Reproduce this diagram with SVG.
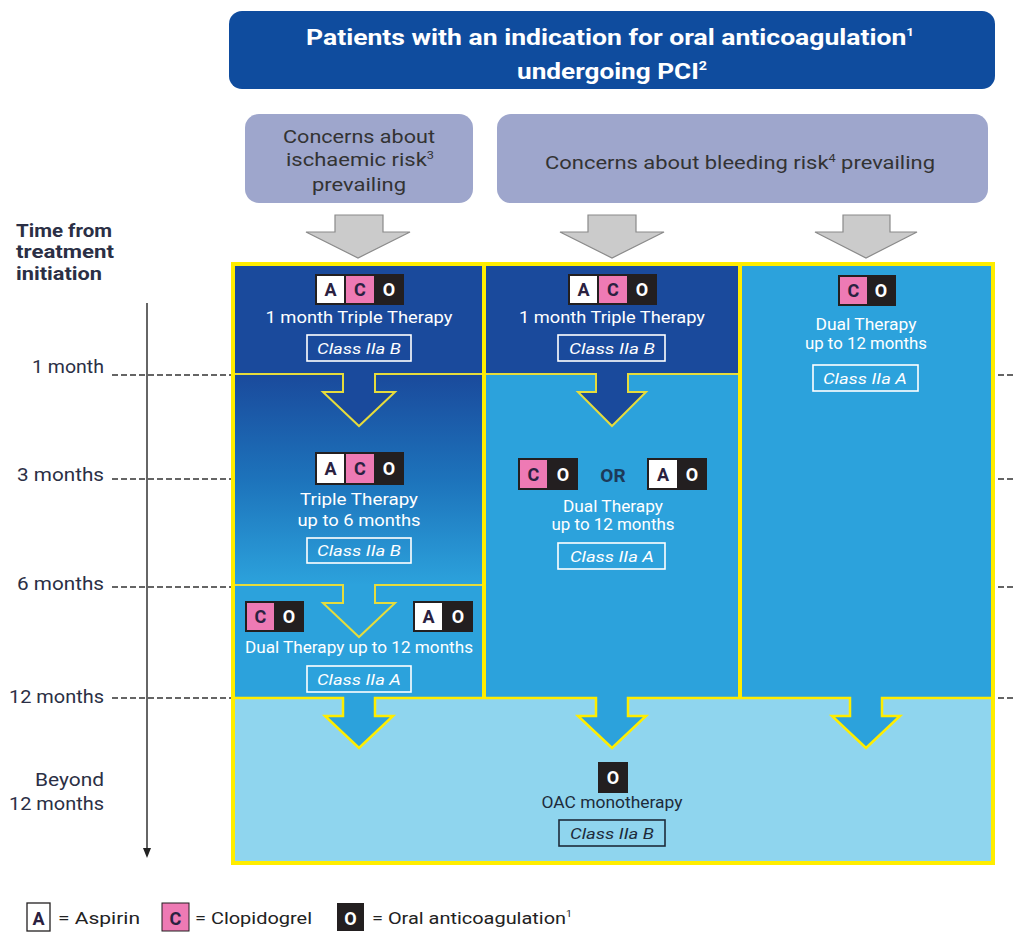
<svg xmlns="http://www.w3.org/2000/svg" width="1015" height="932" viewBox="0 0 1015 932">
<style>
text{font-family:Roboto,"Liberation Sans",sans-serif}
.w{fill:#fff}
.t{font-size:16px;fill:#fff;text-anchor:middle}
.cls{font-size:15px;font-style:italic;fill:#fff;text-anchor:middle}
.clsbox{fill:none;stroke:#fff;stroke-width:1.6}
.bk{fill:#231f20}
.bw{fill:#fff}
.bp{fill:#ee7ab4}
.bl{font-size:18px;font-weight:bold;text-anchor:middle;fill:#2a2140}
.blw{font-size:18px;font-weight:bold;text-anchor:middle;fill:#fff}
.ol{fill:none;stroke:#e6dc3c;stroke-width:2}
.lab{font-size:18px;fill:#2b2f45;text-anchor:end}
.dash{stroke:#333;stroke-width:1.3;stroke-dasharray:6 3}
.gt{font-size:19px;fill:#333;text-anchor:middle}
.garr{fill:#cbcbcb;stroke:#8a8a8a;stroke-width:1.2}
.leg{font-size:17px;fill:#222}
</style>
<defs>
<linearGradient id="g1" x1="0" y1="0" x2="0" y2="1">
<stop offset="0" stop-color="#1a4a9c"/>
<stop offset="0.5" stop-color="#1d73bb"/>
<stop offset="1" stop-color="#2ca2dc"/>
</linearGradient>
<marker id="ah" markerWidth="10" markerHeight="8" refX="5" refY="4" orient="auto" markerUnits="userSpaceOnUse">
<path d="M0,0 L10,4 L0,8 Z" fill="#222"/>
</marker>
</defs>

<g id="title">
<rect x="229" y="11" width="766" height="78" rx="13" fill="#0f4c9e"/>
<text x="610" y="45" font-size="22" font-weight="bold" class="w" text-anchor="middle" textLength="608" lengthAdjust="spacingAndGlyphs">Patients with an indication for oral anticoagulation<tspan font-size="11" dy="-9">1</tspan></text>
<text x="612" y="79" font-size="22" font-weight="bold" class="w" text-anchor="middle" textLength="190" lengthAdjust="spacingAndGlyphs">undergoing PCI<tspan font-size="12" dy="-9">2</tspan></text>
</g>

<g id="ischaemic">
<rect x="245" y="114" width="228" height="89" rx="14" fill="#9ea6cc"/>
<text x="359" y="143" class="gt" textLength="152" lengthAdjust="spacingAndGlyphs">Concerns about</text>
<text x="360" y="166" class="gt" textLength="148" lengthAdjust="spacingAndGlyphs">ischaemic risk<tspan font-size="11" dy="-7">3</tspan></text>
<text x="359" y="191" class="gt" textLength="94" lengthAdjust="spacingAndGlyphs">prevailing</text>
</g>
<g id="bleeding">
<rect x="497" y="114" width="491" height="89" rx="14" fill="#9ea6cc"/>
<text x="740" y="169" class="gt" textLength="390" lengthAdjust="spacingAndGlyphs">Concerns about bleeding risk<tspan font-size="11" dy="-7">4</tspan><tspan dy="7"> prevailing</tspan></text>
</g>

<g id="gray-arrows">
<path class="garr" d="M335,215 H383 V232 H410 L358,258 L306,232 H335 Z"/>
<path class="garr" d="M588,215 H636 V232 H664 L612,258 L560,232 H588 Z"/>
<path class="garr" d="M843,215 H890 V232 H917 L866,258 L815,232 H843 Z"/>
</g>

<g id="timeline">
<text x="16" y="237" font-size="18" font-weight="bold" fill="#2b2f45" textLength="96" lengthAdjust="spacingAndGlyphs">Time from</text>
<text x="16" y="258" font-size="18" font-weight="bold" fill="#2b2f45" textLength="98" lengthAdjust="spacingAndGlyphs">treatment</text>
<text x="16" y="280" font-size="18" font-weight="bold" fill="#2b2f45" textLength="86" lengthAdjust="spacingAndGlyphs">initiation</text>
<line x1="147" y1="303" x2="147" y2="853" stroke="#333" stroke-width="1.5" marker-end="url(#ah)"/>
<line class="dash" x1="112" y1="375" x2="231" y2="375"/>
<line class="dash" x1="112" y1="479" x2="231" y2="479"/>
<line class="dash" x1="112" y1="587" x2="231" y2="587"/>
<line class="dash" x1="112" y1="698" x2="231" y2="698"/>
<line class="dash" x1="998" y1="375" x2="1015" y2="375"/>
<line class="dash" x1="998" y1="479" x2="1015" y2="479"/>
<line class="dash" x1="998" y1="587" x2="1015" y2="587"/>
<line class="dash" x1="998" y1="698" x2="1015" y2="698"/>
<text x="104" y="373" class="lab" textLength="72" lengthAdjust="spacingAndGlyphs">1 month</text>
<text x="104" y="481" class="lab" textLength="87" lengthAdjust="spacingAndGlyphs">3 months</text>
<text x="104" y="590" class="lab" textLength="87" lengthAdjust="spacingAndGlyphs">6 months</text>
<text x="104" y="703" class="lab" textLength="95" lengthAdjust="spacingAndGlyphs">12 months</text>
<text x="104" y="786" class="lab" textLength="69" lengthAdjust="spacingAndGlyphs">Beyond</text>
<text x="104" y="810" class="lab" textLength="95" lengthAdjust="spacingAndGlyphs">12 months</text>
</g>

<g id="backgrounds">
<rect x="235" y="698" width="756" height="163" fill="#8fd5ee"/>
<rect x="235" y="585" width="249" height="113" fill="#2ca2dc"/>
<rect x="235" y="374" width="249" height="211" fill="url(#g1)"/>
<rect x="235" y="266" width="249" height="108" fill="#1a4a9c"/>
<rect x="484" y="266" width="256" height="432" fill="#2ca2dc"/>
<rect x="484" y="266" width="256" height="108" fill="#1a4a9c"/>
<rect x="740" y="266" width="251" height="432" fill="#2ca2dc"/>
</g>

<g id="connectors">
<path d="M343,373 V392 H323 L359,426 L395,392 H375 V373 Z" fill="#1a4a9c"/>
<path class="ol" d="M235,374 H343 V392 H323 L359,426 L395,392 H375 V374 H482"/>
<path d="M343,584 V603 H323 L359,637 L395,603 H375 V584 Z" fill="#2ca2dc"/>
<path class="ol" d="M235,585 H343 V603 H323 L359,637 L395,603 H375 V585 H482"/>
<path d="M596,373 V392 H578 L612,426 L646,392 H628 V373 Z" fill="#1a4a9c"/>
<path class="ol" d="M486,374 H596 V392 H578 L612,426 L646,392 H628 V374 H738"/>
<path d="M343,697 V716 H325 L359,748 L393,716 H375 V697 Z" fill="#2ca2dc"/>
<path d="M596,697 V716 H578 L612,748 L646,716 H628 V697 Z" fill="#2ca2dc"/>
<path d="M850,697 V716 H832 L866,748 L900,716 H882 V697 Z" fill="#2ca2dc"/>
<path fill="none" stroke="#ffed00" stroke-width="2.5" d="M235,698 H343 V716 H325 L359,748 L393,716 H375 V698 H596 V716 H578 L612,748 L646,716 H628 V698 H850 V716 H832 L866,748 L900,716 H882 V698 H991"/>
<line x1="484" y1="266" x2="484" y2="698" stroke="#ffed00" stroke-width="4"/>
<line x1="740" y1="266" x2="740" y2="698" stroke="#ffed00" stroke-width="4"/>
<rect x="233" y="264" width="760" height="599" fill="none" stroke="#ffed00" stroke-width="4"/>
</g>

<g id="ischaemic-1month">
<rect class="bk" x="315" y="274" width="89" height="31"/>
<rect class="bw" x="317" y="276" width="27" height="27"/>
<rect class="bp" x="346" y="276" width="28" height="27"/>
<text x="330.5" y="296" class="bl">A</text><text x="360" y="296" class="bl">C</text><text x="389" y="296" class="blw">O</text>
<text x="359" y="323" class="t" textLength="187" lengthAdjust="spacingAndGlyphs">1 month Triple Therapy</text>
<rect class="clsbox" x="307" y="335" width="104" height="26"/>
<text x="359" y="354" class="cls" textLength="84" lengthAdjust="spacingAndGlyphs">Class IIa B</text>
</g>

<g id="ischaemic-6months">
<rect class="bk" x="315" y="452" width="89" height="33"/>
<rect class="bw" x="317" y="454" width="27" height="29"/>
<rect class="bp" x="346" y="454" width="28" height="29"/>
<text x="330.5" y="475" class="bl">A</text><text x="360" y="475" class="bl">C</text><text x="389" y="475" class="blw">O</text>
<text x="359" y="505" class="t" textLength="118" lengthAdjust="spacingAndGlyphs">Triple Therapy</text>
<text x="359" y="526" class="t" textLength="123" lengthAdjust="spacingAndGlyphs">up to 6 months</text>
<rect class="clsbox" x="307" y="538" width="104" height="25"/>
<text x="359" y="556" class="cls" textLength="84" lengthAdjust="spacingAndGlyphs">Class IIa B</text>
</g>

<g id="ischaemic-12months">
<rect class="bk" x="245" y="601" width="59" height="31"/>
<rect class="bp" x="247" y="603" width="27" height="27"/>
<text x="260.5" y="623" class="bl">C</text><text x="289" y="623" class="blw">O</text>
<rect class="bk" x="413" y="601" width="60" height="31"/>
<rect class="bw" x="415" y="603" width="27" height="27"/>
<text x="428.5" y="623" class="bl">A</text><text x="458" y="623" class="blw">O</text>
<text x="359" y="653" class="t" textLength="228" lengthAdjust="spacingAndGlyphs">Dual Therapy up to 12 months</text>
<rect class="clsbox" x="307" y="666" width="104" height="26"/>
<text x="359" y="685" class="cls" textLength="84" lengthAdjust="spacingAndGlyphs">Class IIa A</text>
</g>

<g id="bleeding-1month">
<rect class="bk" x="568" y="274" width="89" height="31"/>
<rect class="bw" x="570" y="276" width="27" height="27"/>
<rect class="bp" x="599" y="276" width="28" height="27"/>
<text x="583.5" y="296" class="bl">A</text><text x="613" y="296" class="bl">C</text><text x="642" y="296" class="blw">O</text>
<text x="612" y="323" class="t" textLength="186" lengthAdjust="spacingAndGlyphs">1 month Triple Therapy</text>
<rect class="clsbox" x="558" y="335" width="107" height="26"/>
<text x="612" y="354" class="cls" textLength="86" lengthAdjust="spacingAndGlyphs">Class IIa B</text>
</g>

<g id="bleeding-12months">
<rect class="bk" x="518" y="458" width="60" height="32"/>
<rect class="bp" x="520" y="460" width="27" height="28"/>
<text x="533.5" y="481" class="bl">C</text><text x="563" y="481" class="blw">O</text>
<text x="613" y="482" font-size="19" font-weight="bold" fill="#1d3a5a" text-anchor="middle">OR</text>
<rect class="bk" x="647" y="458" width="60" height="32"/>
<rect class="bw" x="649" y="460" width="28" height="28"/>
<text x="663" y="481" class="bl">A</text><text x="692" y="481" class="blw">O</text>
<text x="613" y="512" class="t" textLength="100" lengthAdjust="spacingAndGlyphs">Dual Therapy</text>
<text x="613" y="530" class="t" textLength="123" lengthAdjust="spacingAndGlyphs">up to 12 months</text>
<rect class="clsbox" x="558" y="543" width="107" height="26"/>
<text x="612" y="562" class="cls" textLength="84" lengthAdjust="spacingAndGlyphs">Class IIa A</text>
</g>

<g id="bleeding-dual">
<rect class="bk" x="838" y="275" width="58" height="31"/>
<rect class="bp" x="840" y="277" width="27" height="27"/>
<text x="853.5" y="297" class="bl">C</text><text x="881" y="297" class="blw">O</text>
<text x="866" y="330" class="t" textLength="101" lengthAdjust="spacingAndGlyphs">Dual Therapy</text>
<text x="866" y="349" class="t" textLength="122" lengthAdjust="spacingAndGlyphs">up to 12 months</text>
<rect class="clsbox" x="813" y="365" width="105" height="26"/>
<text x="865" y="384" class="cls" textLength="84" lengthAdjust="spacingAndGlyphs">Class IIa A</text>
</g>

<g id="oac-monotherapy">
<rect class="bk" x="598" y="762" width="30" height="31"/>
<text x="613" y="784" class="blw">O</text>
<text x="612" y="808" font-size="16" fill="#1d2b3a" text-anchor="middle" textLength="141" lengthAdjust="spacingAndGlyphs">OAC monotherapy</text>
<rect x="559" y="820" width="106" height="26" fill="none" stroke="#1d2b3a" stroke-width="1.6"/>
<text x="612" y="839" font-size="15" font-style="italic" fill="#1d2b3a" text-anchor="middle" textLength="84" lengthAdjust="spacingAndGlyphs">Class IIa B</text>
</g>

<g id="legend">
<rect x="27" y="903" width="23" height="28" fill="#fff" stroke="#231f20" stroke-width="1.3"/>
<text x="38.5" y="925" class="bl">A</text>
<text x="58" y="924" class="leg" textLength="82" lengthAdjust="spacingAndGlyphs">= Aspirin</text>
<rect x="162" y="903" width="27" height="28" fill="#ee7ab4" stroke="#231f20" stroke-width="1"/>
<text x="175.5" y="925" class="bl">C</text>
<text x="195" y="924" class="leg" textLength="117" lengthAdjust="spacingAndGlyphs">= Clopidogrel</text>
<rect x="337" y="903" width="27" height="28" fill="#231f20"/>
<text x="350.5" y="925" class="blw">O</text>
<text x="372" y="924" class="leg" textLength="200" lengthAdjust="spacingAndGlyphs">= Oral anticoagulation<tspan font-size="9" dy="-7">1</tspan></text>
</g>
</svg>
